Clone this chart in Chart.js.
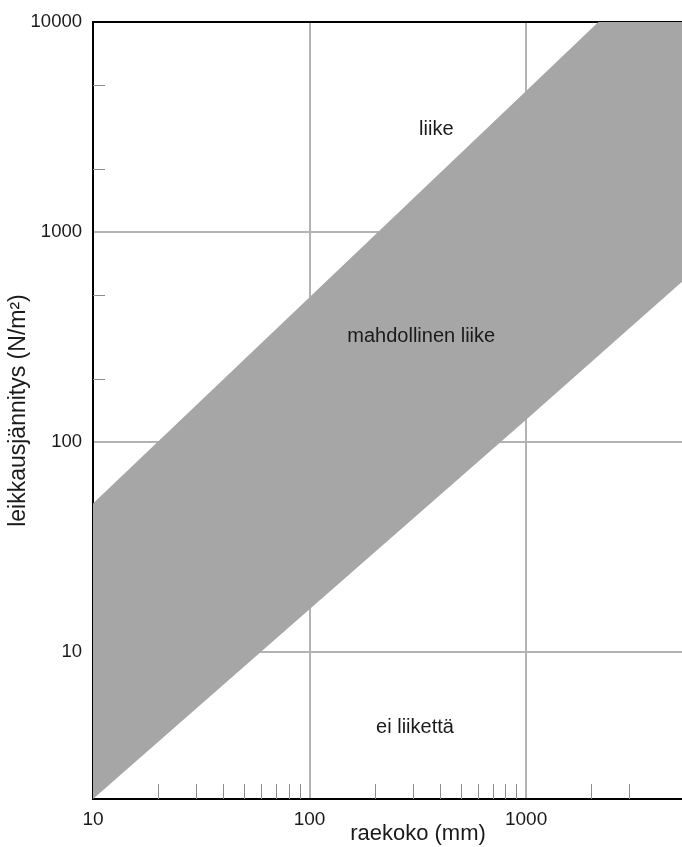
<!DOCTYPE html>
<html>
<head>
<meta charset="utf-8">
<script src="https://cdn.jsdelivr.net/npm/chart.js@4/dist/chart.umd.min.js"></script>
<style>
  html, body { margin: 0; padding: 0; background: #ffffff; }
  #wrap { width: 682px; height: 847px; position: relative; }
</style>
</head>
<body>
<div id="wrap"><canvas id="c"></canvas></div>
<script>
// Grain size (mm) at which the band edges are sampled
const grainSize = [10, 100, 1000, 5250];
// Upper edge of the "possible movement" band, shear stress N/m²
const upperStress = [51, 490, 4700, 24000];
// Lower edge of the band, shear stress N/m²
const lowerStress = [2, 16, 128, 580];

// Labelled decades and minor tick marks
const xMajor = [10, 100, 1000];
const yMajor = [10, 100, 1000, 10000];
const xMinor = [20, 30, 40, 50, 60, 70, 80, 90, 200, 300, 400, 500, 600, 700, 800, 900, 2000, 3000];
const yMinor = [200, 500, 2000, 5000];

// Region labels placed in data coordinates [text, grain size, stress]
const regionLabels = [
  ['liike', 385, 3080],
  ['mahdollinen liike', 328, 320],
  ['ei liikettä', 307, 4.4]
];

const FONT = '"Liberation Sans", Arial, sans-serif';

const pts = (xs, ys) => xs.map((x, i) => ({ x: x, y: ys[i] }));

const overlay = {
  id: 'overlay',
  afterDatasetsDraw(chart) {
    const ctx = chart.ctx;
    const xs = chart.scales.x, ys = chart.scales.y;
    const a = chart.chartArea;
    ctx.save();
    ctx.strokeStyle = '#8c8c8c';
    ctx.lineWidth = 1;
    ctx.beginPath();
    xMinor.forEach(v => {
      const px = Math.round(xs.getPixelForValue(v)) + 0.5;
      ctx.moveTo(px, a.bottom);
      ctx.lineTo(px, a.bottom - 15);
    });
    yMinor.forEach(v => {
      const py = Math.round(ys.getPixelForValue(v)) + 0.5;
      ctx.moveTo(a.left, py);
      ctx.lineTo(a.left + 12, py);
    });
    ctx.stroke();

    ctx.fillStyle = '#1a1a1a';
    ctx.font = '20px ' + FONT;
    ctx.textAlign = 'center';
    ctx.textBaseline = 'middle';
    regionLabels.forEach(([t, x, y]) => {
      ctx.fillText(t, xs.getPixelForValue(x), ys.getPixelForValue(y));
    });

    // axis titles
    ctx.font = '22px ' + FONT;
    ctx.fillText('raekoko (mm)', 418, 834);
    ctx.font = '23px ' + FONT;
    ctx.translate(19, (a.top + a.bottom) / 2);
    ctx.rotate(-Math.PI / 2);
    ctx.fillText('leikkausjännitys (N/m²)', 0, 0);
    ctx.restore();
  }
};

new Chart(document.getElementById('c'), {
  type: 'line',
  data: {
    datasets: [
      {
        label: 'alaraja',
        data: pts(grainSize, lowerStress),
        borderWidth: 0,
        borderColor: 'rgba(0,0,0,0)',
        pointRadius: 0,
        fill: false
      },
      {
        label: 'yläraja',
        data: pts(grainSize, upperStress),
        borderWidth: 0,
        borderColor: 'rgba(0,0,0,0)',
        backgroundColor: '#a6a6a6',
        pointRadius: 0,
        fill: '-1'
      }
    ]
  },
  options: {
    responsive: true,
    maintainAspectRatio: false,
    animation: false,
    events: [],
    layout: { padding: { top: 16, right: 0, left: 0, bottom: 0 } },
    plugins: { legend: { display: false }, tooltip: { enabled: false } },
    scales: {
      x: {
        type: 'logarithmic',
        min: 10,
        max: 5250,
        afterBuildTicks(s) { s.ticks = xMajor.map(v => ({ value: v })); },
        afterFit(s) { s.height = 48; },
        grid: {
          drawTicks: false,
          lineWidth: 2,
          color: c => (c.tick && c.tick.value === 10) ? 'rgba(0,0,0,0)' : '#b3b3b3'
        },
        border: { color: '#000000', width: 2 },
        ticks: {
          padding: 9,
          autoSkip: false,
          maxRotation: 0,
          color: '#1a1a1a',
          font: { size: 19, family: FONT },
          callback: v => String(v)
        }
      },
      y: {
        type: 'logarithmic',
        min: 2,
        max: 10000,
        afterBuildTicks(s) { s.ticks = yMajor.map(v => ({ value: v })); },
        afterFit(s) { s.width = 93; },
        grid: {
          drawTicks: false,
          lineWidth: 2,
          color: c => (c.tick && c.tick.value === 10000) ? '#000000' : '#b3b3b3'
        },
        border: { color: '#000000', width: 2 },
        ticks: {
          padding: 11,
          autoSkip: false,
          color: '#1a1a1a',
          font: { size: 18.5, family: FONT },
          callback: v => String(v)
        }
      }
    }
  },
  plugins: [overlay]
});
</script>
</body>
</html>
